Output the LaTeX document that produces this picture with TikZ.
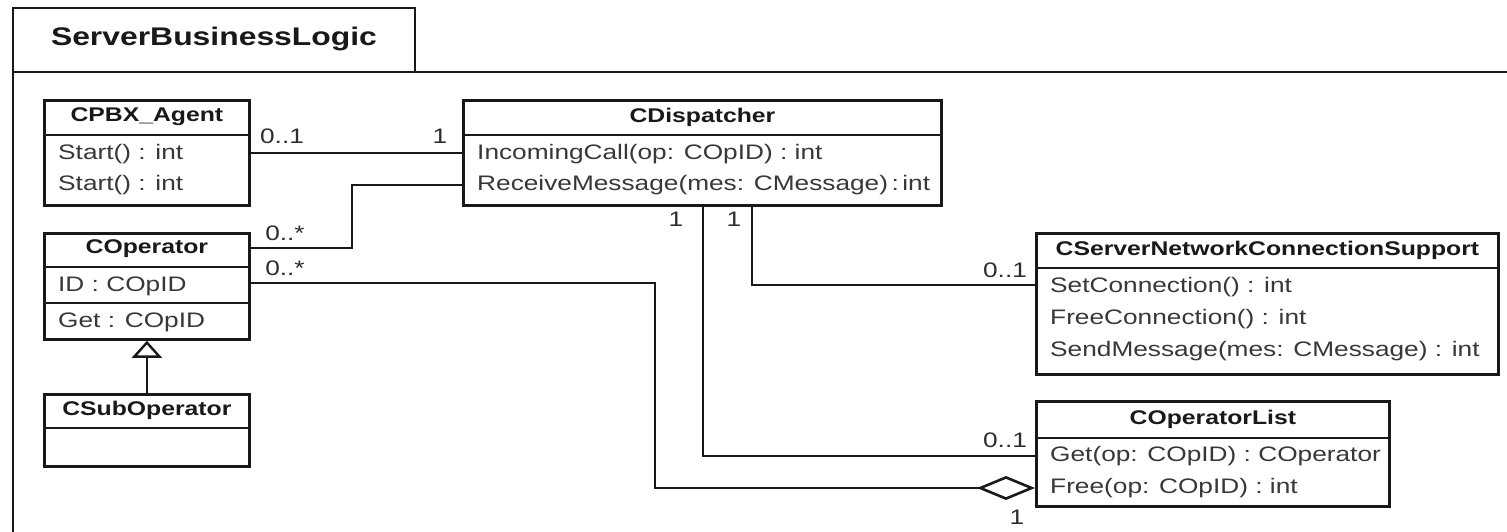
\documentclass[tikz,border=0pt]{standalone}
\usepackage{fontspec}
\setmainfont[FakeStretch=1.25]{Liberation Sans}
\usetikzlibrary{calc,arrows.meta}
\begin{document}
\begin{tikzpicture}[x=1pt,y=-1pt,
  ln/.style={line width=2.8pt, draw=black!90},
  cls/.style={draw=black!90, line width=2.8pt, anchor=north west, inner sep=0pt, fill=white},
  ttl/.style={font=\fontsize{19.8}{22}\selectfont\bfseries, text=black!90, inner sep=0pt},
  attr/.style={font=\fontsize{21}{24}\selectfont, text=black!78, anchor=west, inner sep=0pt},
  mult/.style={font=\fontsize{21}{24}\selectfont, text=black!82, inner sep=0pt},
  pkgttl/.style={font=\fontsize{25.5}{28}\selectfont\bfseries, text=black!90, inner sep=0pt}]
\useasboundingbox (0,0) rectangle (1507,531);
\fill[white] (0,0) rectangle (1507,531);

% package frame
\draw[ln] (13,540) -- (13,8) -- (415,8) -- (415,72);
\draw[ln] (13,72) -- (1515,72);
\node[pkgttl] (pkg) at (214,39) {ServerBusinessLogic};

% CPBX_Agent
\node[cls, minimum width=205pt, minimum height=105pt] (agent) at (43,99) {};
\draw[ln] ($(agent.north west)+(0,36)$) -- ($(agent.north east)+(0,36)$);
\node[ttl] (agentT) at ($(agent.north)+(0,18)$) {CPBX\_Agent};
\node[attr] (agentA1) at (58,154) {Start() : int};
\node[attr] (agentA2) at (58,185) {Start() : int};

% CDispatcher
\node[cls, minimum width=478pt, minimum height=105pt] (disp) at (462,99) {};
\draw[ln] ($(disp.north west)+(0,36)$) -- ($(disp.north east)+(0,36)$);
\node[ttl] (dispT) at ($(disp.north)+(0,18)$) {CDispatcher};
\node[attr] (dispA1) at (477,154) {IncomingCall(op: COpID) : int};
\node[attr] (dispA2) at (477,185) {ReceiveMessage(mes: CMessage)\,:\,int};

% COperator
\node[cls, minimum width=205pt, minimum height=106pt] (oper) at (43,232) {};
\draw[ln] ($(oper.north west)+(0,35)$) -- ($(oper.north east)+(0,35)$);
\draw[ln] ($(oper.north west)+(0,71)$) -- ($(oper.north east)+(0,71)$);
\node[ttl] (operT) at ($(oper.north)+(0,17)$) {COperator};
\node[attr] (operA1) at (58,286) {ID : COpID};
\node[attr] (operA2) at (58,322) {Get : COpID};

% CSubOperator
\node[cls, minimum width=205pt, minimum height=72pt] (sub) at (43,393) {};
\draw[ln] ($(sub.north west)+(0,35)$) -- ($(sub.north east)+(0,35)$);
\node[ttl] (subT) at ($(sub.north)+(0,17)$) {CSubOperator};

% CServerNetworkConnectionSupport
\node[cls, minimum width=462pt, minimum height=141pt] (net) at (1035,232) {};
\draw[ln] ($(net.north west)+(0,36)$) -- ($(net.north east)+(0,36)$);
\node[ttl] (netT) at ($(net.north)+(0,18)$) {CServerNetworkConnectionSupport};
\node[attr] (netA1) at (1050,287) {SetConnection() : int};
\node[attr] (netA2) at (1050,319) {FreeConnection() : int};
\node[attr] (netA3) at (1050,351) {SendMessage(mes: CMessage) : int};

% COperatorList
\node[cls, minimum width=353pt, minimum height=105pt] (list) at (1035,400) {};
\draw[ln] ($(list.north west)+(0,38)$) -- ($(list.north east)+(0,38)$);
\node[ttl] (listT) at ($(list.north)+(0,19)$) {COperatorList};
\node[attr] (listA1) at (1050,456) {Get(op: COpID) : COperator};
\node[attr] (listA2) at (1050,488) {Free(op: COpID) : int};

% connectors
\draw[ln] (agent.east) -- (agent.east -| disp.west);
\coordinate (c2) at (352,185);
\draw[ln] ($(oper.north east)+(0,16)$) -| (c2) -- (c2 -| disp.west);
\coordinate (c3) at (655,488);
\draw[ln, -{Diamond[open, length=58pt, width=24pt, line width=2.6pt]}] ($(oper.north east)+(0,51)$) -| (c3) -- (c3 -| list.west);
\coordinate (c4) at (703,456);
\draw[ln] (c4 |- disp.south) -- (c4) -- (c4 -| list.west);
\coordinate (c5) at (752,285);
\draw[ln] (c5 |- disp.south) -- (c5) -- (c5 -| net.west);
\draw[ln, -{Triangle[open, length=17pt, width=30pt, line width=2.4pt]}] (sub.north) -- (oper.south);

% multiplicities
\node[mult] (m1) at (282,136) {0..1};
\node[mult] (m2) at (440,136) {1};
\node[mult] (m3) at (285,233) {0..*};
\node[mult] (m4) at (285,268) {0..*};
\node[mult] (m5) at (676,219) {1};
\node[mult] (m6) at (734,219) {1};
\node[mult] (m7) at (1005,270) {0..1};
\node[mult] (m8) at (1005,440) {0..1};
\node[mult] (m9) at (1017,517) {1};
\end{tikzpicture}
\end{document}
